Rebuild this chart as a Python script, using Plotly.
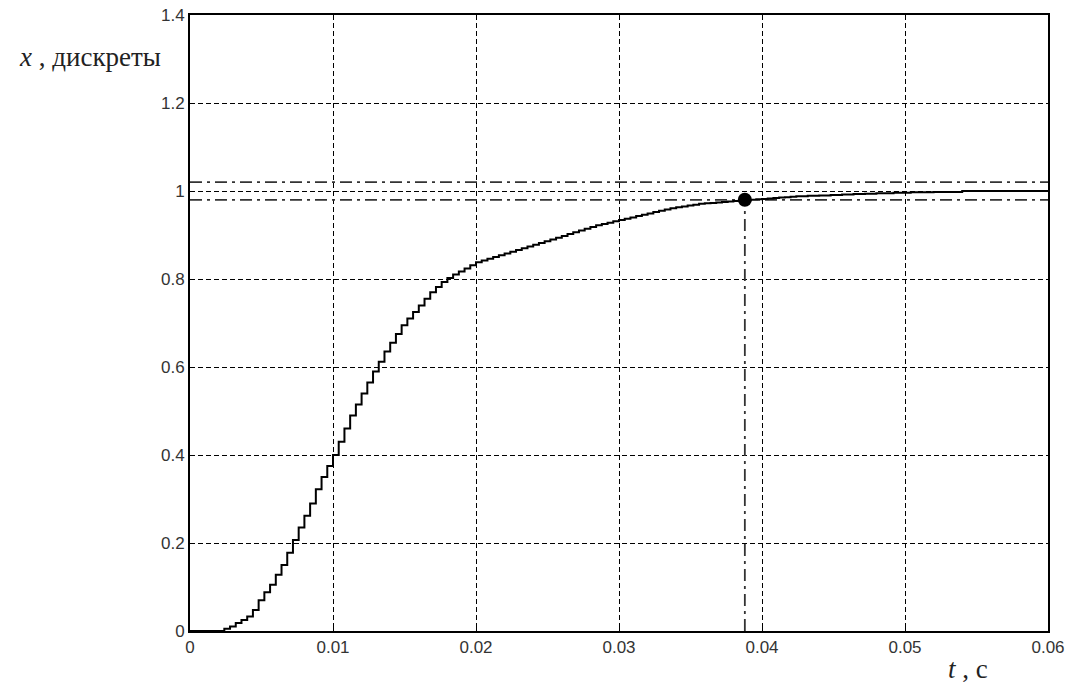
import plotly.graph_objects as go
import numpy as np

# sampling period of the discrete signal, s
dt = 0.0004

# step response values, one per sample (k = 0..150)
x_values = [
    0, 0, 0, 0, 0, 0, 0.005, 0.01, 0.018, 0.025,
    0.033, 0.048, 0.07, 0.088, 0.105, 0.128, 0.15, 0.178, 0.207, 0.235,
    0.262, 0.29, 0.322, 0.35, 0.375, 0.40, 0.43, 0.46, 0.49, 0.515,
    0.54, 0.565, 0.59, 0.612, 0.635, 0.655, 0.675, 0.695, 0.71, 0.725,
    0.74, 0.755, 0.77, 0.782, 0.793, 0.802, 0.81, 0.817, 0.824, 0.831,
    0.838, 0.842, 0.846, 0.850, 0.854, 0.858, 0.862, 0.866, 0.870, 0.874,
    0.878, 0.882, 0.886, 0.890, 0.894, 0.898, 0.902, 0.906, 0.910, 0.914,
    0.918, 0.922, 0.925, 0.928, 0.931, 0.934, 0.937, 0.940, 0.943, 0.946,
    0.949, 0.952, 0.955, 0.958, 0.961, 0.963, 0.965, 0.967, 0.969, 0.971,
    0.972, 0.973, 0.974, 0.975, 0.976, 0.977, 0.978, 0.979, 0.980, 0.981,
    0.982, 0.983, 0.984, 0.985, 0.986, 0.987, 0.988, 0.988, 0.989, 0.989,
    0.990, 0.990, 0.991, 0.991, 0.992, 0.992, 0.993, 0.993, 0.994, 0.994,
    0.995, 0.995, 0.995, 0.996, 0.996, 0.996, 0.997, 0.997, 0.997, 0.997,
    0.998, 0.998, 0.998, 0.998, 0.998, 1.0, 1.0, 1.0, 1.0, 1.0,
    1.0, 1.0, 1.0, 1.0, 1.0, 1.0, 1.0, 1.0, 1.0, 1.0, 1.0,
]

# settling band (+-2 %) and settling point
band_low = 0.98
band_high = 1.02
t_settle = 0.0388
x_settle = 0.98

x_ticks = [0, 0.01, 0.02, 0.03, 0.04, 0.05, 0.06]
y_ticks = [0, 0.2, 0.4, 0.6, 0.8, 1, 1.2, 1.4]

t = np.arange(len(x_values)) * dt

fig = go.Figure()

dashdot = "12px,5px,3px,5px"
for level in [band_high, band_low]:
    fig.add_trace(go.Scatter(
        x=[x_ticks[0], x_ticks[-1]], y=[level, level], mode="lines",
        line=dict(color="#333333", width=1.8, dash=dashdot), hoverinfo="skip"))

fig.add_trace(go.Scatter(
    x=[t_settle, t_settle], y=[0, x_settle], mode="lines",
    line=dict(color="#333333", width=1.8, dash=dashdot), hoverinfo="skip"))

fig.add_trace(go.Scatter(
    x=t, y=x_values, mode="lines", line_shape="hv",
    line=dict(color="black", width=2)))

fig.add_trace(go.Scatter(
    x=[t_settle], y=[x_settle], mode="markers",
    marker=dict(color="black", size=14)))

axis_common = dict(
    showline=True, linecolor="black", linewidth=2, mirror=True,
    showgrid=True, gridcolor="black", gridwidth=1.3, griddash="5px,3px",
    zeroline=False, ticks="inside", ticklen=5, tickcolor="black",
    ticklabeloverflow="allow", automargin=False,
    tickfont=dict(family="Liberation Sans, Arial", size=17, color="#333333"))

fig.update_xaxes(range=[0, 0.06], tickvals=x_ticks,
                 ticktext=[f"{v:g}" for v in x_ticks], **axis_common)
fig.update_yaxes(range=[0, 1.4], tickvals=y_ticks,
                 ticktext=[f"{v:g}" for v in y_ticks], **axis_common)

label_font = dict(family="Liberation Serif, Times New Roman", size=27, color="#222222")
fig.add_annotation(xref="paper", yref="paper", x=-0.031, y=0.932,
                   xanchor="right", yanchor="middle", showarrow=False,
                   text="<i>x</i> , дискреты", font=label_font)
fig.add_annotation(xref="paper", yref="paper", x=0.907, y=-0.062,
                   xanchor="center", yanchor="middle", showarrow=False,
                   text="<i>t</i> , с", font=label_font)

fig.update_layout(
    width=1071, height=697,
    margin=dict(l=190, r=23, t=15, b=66),
    paper_bgcolor="white", plot_bgcolor="white",
    showlegend=False)

# drop the default 8px page margin so the figure fills the window
fig.write_html("out.html", config={"displayModeBar": False},
               post_script="document.body.style.margin = '0';")
